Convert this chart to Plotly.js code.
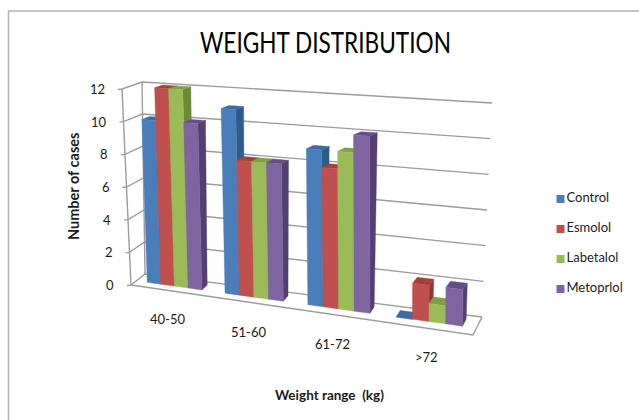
<!DOCTYPE html>
<html>
<head>
<meta charset="utf-8">
<script src="https://cdn.plot.ly/plotly-3.0.1.min.js"></script>
<style>html,body{margin:0;padding:0;background:#fff;overflow:hidden}</style>
</head>
<body>
<div id="chart" style="width:639px;height:420px"></div>
<script>
// Number of cases per weight range, one list per drug group
const categories = ['40-50', '51-60', '61-72', '>72'];
const control    = [10, 11, 9, 0];
const esmolol    = [12, 8, 8, 2];
const labetalol  = [12, 8, 9, 1];
const metoprolol = [10, 8, 10, 2];
const valueTicks = [0, 2, 4, 6, 8, 10, 12];
const seriesNames = ['Control', 'Esmolol', 'Labetalol', 'Metoprlol'];
const seriesValues = [control, esmolol, labetalol, metoprolol];
const chartTitle = 'WEIGHT DISTRIBUTION';

// Face colours: front, side, top
const faceColors = [
  ['#4a7ebb', '#2f5a8e', '#3c6ba3'],
  ['#c0504d', '#8f3533', '#a53f3c'],
  ['#9bbb59', '#6c8a38', '#7f9e45'],
  ['#8064a2', '#543f72', '#664d88']
];

// Corners of the 3D plot box on the drawing plane: [category, value, depth]
const box = {
  '000': [131, 285], '001': [145, 274],
  '010': [122, 89],  '011': [142, 82],
  '100': [473, 335], '101': [482, 317],
  '110': [471, 110], '111': [492, 103]
};
const vMax = 12;
const foreshorten = 0.12;

// Project a category position (0-1), a value and a depth (0-1) onto the plane
function project(u, value, d) {
  const a = u * (1 - foreshorten) / (1 - foreshorten * u);
  const b = value / vMax;
  const out = [0, 0];
  for (let i = 0; i < 2; i++) {
    let sum = 0;
    for (const ua of [0, 1]) for (const vb of [0, 1]) for (const dc of [0, 1]) {
      const w = (ua ? a : 1 - a) * (vb ? b : 1 - b) * (dc ? d : 1 - d);
      sum += w * box['' + ua + vb + dc][i];
    }
    out[i] = sum;
  }
  return out;
}

function polyTrace(polys, color, name) {
  const x = [], y = [];
  polys.forEach(p => {
    p.forEach(q => { x.push(q[0]); y.push(q[1]); });
    x.push(p[0][0]); y.push(p[0][1]);
    x.push(null); y.push(null);
  });
  return {
    type: 'scatter', mode: 'lines', x, y, name, fill: 'toself', fillcolor: color,
    line: {color, width: 0.4}, hoverinfo: 'name', showlegend: false
  };
}
function lineTrace(pts, color, width) {
  return {
    type: 'scatter', mode: 'lines', x: pts.map(p => p[0]), y: pts.map(p => p[1]),
    line: {color, width}, hoverinfo: 'skip', showlegend: false
  };
}

const traces = [];
const gridColor = '#9c9c9c';
const gridWidth = 1.4;

// Walls: value gridlines along the side and back, plus the floor outline
valueTicks.forEach(t => {
  traces.push(lineTrace([
    [project(0, t, 0)[0] - 4, project(0, t, 0)[1] + 0.5],
    project(0, t, 0), project(0, t, 1), project(1, t, 1)
  ], gridColor, gridWidth));
});
traces.push(lineTrace([project(0, 0, 0), project(0, 12, 0)], gridColor, gridWidth));
traces.push(lineTrace([project(0, 0, 1), project(0, 12, 1)], gridColor, gridWidth));
traces.push(lineTrace([project(0, 0, 0), project(1, 0, 0), project(1, 0, 1)], gridColor, gridWidth));

// Bars
const catWidth = 1 / categories.length;
const groupShare = 0.71;
const barWidth = catWidth * groupShare / seriesNames.length;
const dFront = 0.38, dBack = 0.78;

seriesValues.forEach((vals, s) => {
  const fronts = [], sides = [], tops = [];
  vals.forEach((v, c) => {
    const u0 = (c + 0.5) * catWidth - catWidth * groupShare / 2 + s * barWidth;
    const u1 = u0 + barWidth;
    fronts.push([project(u0, 0, dFront), project(u1, 0, dFront), project(u1, v, dFront), project(u0, v, dFront)]);
    sides.push([project(u1, 0, dFront), project(u1, 0, dBack), project(u1, v, dBack), project(u1, v, dFront)]);
    tops.push([project(u0, v, dFront), project(u1, v, dFront), project(u1, v, dBack), project(u0, v, dBack)]);
  });
  traces.push(polyTrace(sides, faceColors[s][1], seriesNames[s] + ' side'));
  traces.push(polyTrace(tops, faceColors[s][2], seriesNames[s] + ' top'));
  traces.push(polyTrace(fronts, faceColors[s][0], seriesNames[s]));
});

// Legend keys
const legendX = 560.5, legendY = [199, 229, 259, 289];
seriesNames.forEach((n, s) => {
  traces.push({
    type: 'scatter', mode: 'markers+text', x: [legendX], y: [legendY[s]], text: [n],
    textposition: 'middle right', cliponaxis: false,
    textfont: {family: 'Lato, sans-serif', size: 13, color: '#222'},
    marker: {symbol: 'square', size: 8, color: faceColors[s][0]},
    hoverinfo: 'skip', showlegend: false
  });
});

const textColor = '#1a1a1a';
const annotations = [];
function label(x, y, text, size, opts) {
  annotations.push(Object.assign({
    x, y, xref: 'x', yref: 'y', text, showarrow: false,
    font: {family: 'Lato, sans-serif', size, color: textColor},
    xanchor: 'center', yanchor: 'middle'
  }, opts || {}));
}

valueTicks.forEach(t => {
  const p = project(0, t, 0);
  label(p[0] - 15, p[1], String(t), 13, {xanchor: 'right'});
});
const categoryAnchors = [[167, 319], [248, 332], [332, 344], [426, 357]];
categories.forEach((c, i) => label(categoryAnchors[i][0], categoryAnchors[i][1], c, 13));
label(325, 42, chartTitle, 28, {
  font: {family: 'Lato, sans-serif', size: 28, color: '#000'}
});
label(329, 395, '<b>Weight range  (kg)</b>', 13.5);
label(73, 187, '<b>Number of cases</b>', 14.5, {textangle: -90});

const layout = {
  width: 639, height: 420,
  margin: {l: 0, r: 0, t: 0, b: 0},
  paper_bgcolor: '#fff', plot_bgcolor: '#fff',
  showlegend: false,
  xaxis: {range: [0, 639], visible: false, fixedrange: true},
  yaxis: {range: [420, 0], visible: false, fixedrange: true},
  annotations,
  shapes: [{
    type: 'rect', xref: 'x', yref: 'y', x0: 8.5, y0: 11, x1: 660, y1: 440,
    line: {color: '#b4b4b4', width: 1.5}, layer: 'below'
  }]
};

Plotly.newPlot('chart', traces, layout, {displayModeBar: false, staticPlot: true}).then(() => {
  // The heading is set in a condensed width
  document.querySelectorAll('#chart .annotation-text').forEach(el => {
    if (el.textContent === chartTitle) {
      el.setAttribute('textLength', '251');
      el.setAttribute('lengthAdjust', 'spacingAndGlyphs');
    }
  });
});
</script>
</body>
</html>
